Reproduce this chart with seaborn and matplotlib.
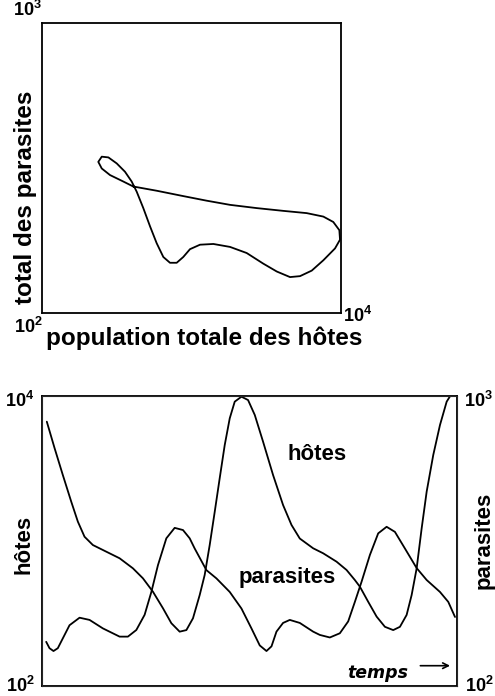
import numpy as np
import pandas as pd
import seaborn as sns
import matplotlib.pyplot as plt

sns.set_style('white')
plt.rcParams['font.family'] = ['Liberation Sans', 'DejaVu Sans']
plt.rcParams['font.weight'] = 'bold'
plt.rcParams['text.color'] = 'black'
plt.rcParams['mathtext.fontset'] = 'custom'
plt.rcParams['mathtext.rm'] = 'Liberation Sans:bold'
plt.rcParams['mathtext.bf'] = 'Liberation Sans:bold'

# phase plane: host population vs parasite total (closed loop)
loop_hosts = [408, 350, 285, 251, 238, 251, 278, 316, 359, 398, 430, 476, 528, 585,
              648, 718, 796, 881, 977, 1140, 1400, 1810, 2340, 3020, 3720, 4560,
              5320, 6370, 7620, 9120, 9850, 9750, 8880, 7620, 5900, 4110, 2730,
              1810, 1260, 881, 585, 408]
loop_parasites = [273, 284, 299, 315, 332, 346, 344, 328, 307, 284, 262, 230, 199, 174,
                  156, 149, 149, 156, 166, 172, 173, 169, 161, 148, 139, 133,
                  134, 140, 152, 167, 179, 193, 206, 215, 221, 225, 230,
                  236, 244, 253, 264, 273]

# time series
t_hosts = [1.16, 3.02, 5.02, 7.04, 8.64, 10.25, 12.26, 15.49, 18.70, 21.91, 24.32,
           26.73, 29.14, 31.17, 33.17, 34.79, 36.38, 38.00, 39.20, 40.41, 41.62,
           42.82, 44.03, 45.24, 46.44, 48.06, 49.65, 51.27, 53.27, 55.68, 58.09,
           60.12, 62.12, 65.33, 67.74, 70.98, 73.39, 75.39, 76.60, 78.60, 80.63,
           82.63, 84.63, 86.25, 87.86, 89.07, 90.28, 91.48, 92.69, 94.28, 95.90,
           97.51, 98.31]
hosts = [6650, 4380, 2850, 1870, 1360, 1070, 938, 844, 760, 648, 553,
         447, 344, 271, 237, 243, 293, 424, 583, 938, 1590,
         2710, 4590, 7020, 9140, 9890, 9380, 7400, 4840, 2850, 1770,
         1290, 1040, 891, 823, 720, 631, 538, 484, 381, 301,
         256, 243, 256, 309, 424, 648, 1220, 2190, 3920, 6310,
         9140, 9950]

t_parasites = [1.01, 1.81, 2.77, 3.81, 5.02, 6.63, 9.05, 11.46, 14.67, 18.70, 20.70,
               22.73, 24.73, 26.35, 27.94, 29.96, 31.97, 33.97, 35.59, 36.79, 39.61,
               42.03, 45.24, 48.06, 50.47, 52.47, 54.09, 55.30, 56.50, 58.09, 59.71,
               62.12, 65.33, 66.95, 69.36, 71.77, 73.78, 75.39, 77.01, 79.01, 81.01,
               83.04, 85.04, 87.45, 90.28, 92.69, 95.90, 97.90, 99.52]
parasites = [142, 135, 132, 135, 146, 162, 172, 169, 158, 148, 148,
             156, 176, 211, 261, 323, 351, 345, 323, 298, 251,
             235, 211, 185, 158, 138, 132, 137, 154, 165, 169,
             165, 154, 150, 147, 152, 167, 195, 229, 283, 336,
             354, 340, 298, 255, 232, 211, 195, 173]

W, H = 495, 696
fig = plt.figure(figsize=(W / 100, H / 100), dpi=100)


def fx(px):
    return px / W


def fy(py):
    return 1 - py / H


def label(x, y, s, size=16, **kw):
    fig.text(fx(x), fy(y), s, fontsize=size, fontweight='bold', color='black',
             ha='center', va='center', **kw)


lw = 1.3

# top panel
ax1 = fig.add_axes([fx(42), fy(313), fx(341) - fx(42), fy(23) - fy(313)])
df_loop = pd.DataFrame({'hosts': loop_hosts, 'parasites': loop_parasites})
sns.lineplot(data=df_loop, x='hosts', y='parasites', sort=False, estimator=None,
             color='black', linewidth=lw, ax=ax1)
ax1.set_xscale('log')
ax1.set_yscale('log')
ax1.set_xlim(100, 10000)
ax1.set_ylim(100, 1000)
ax1.set_xticks([])
ax1.set_yticks([])
ax1.minorticks_off()
ax1.set_xlabel('')
ax1.set_ylabel('')

label(27, 10, r'$10^3$', 13)
label(28, 327, r'$10^2$', 13)
label(358, 316, r'$10^4$', 13)
label(204, 338, 'population totale des hôtes', 17.5)
label(26, 197, 'total des parasites', 17.5, rotation=90)

# bottom panel
ax2 = fig.add_axes([fx(42), fy(686), fx(457) - fx(42), fy(396) - fy(686)])
df_h = pd.DataFrame({'t': t_hosts, 'v': hosts})
df_p = pd.DataFrame({'t': t_parasites, 'v': parasites})
sns.lineplot(data=df_h, x='t', y='v', color='black', linewidth=lw, ax=ax2)
ax2.set_yscale('log')
ax2.set_ylim(100, 10000)
ax2.set_xlim(0, 100)
ax3 = ax2.twinx()
sns.lineplot(data=df_p, x='t', y='v', color='black', linewidth=lw, ax=ax3)
ax3.set_yscale('log')
ax3.set_ylim(100, 1000)
for a in (ax2, ax3):
    a.set_xticks([])
    a.set_yticks([])
    a.minorticks_off()
    a.set_xlabel('')
    a.set_ylabel('')

label(20, 401, r'$10^4$', 13)
label(20, 686, r'$10^2$', 13)
label(478, 401, r'$10^3$', 13)
label(479, 686, r'$10^2$', 13)
label(24, 544, 'hôtes', rotation=90)
label(484, 540, 'parasites', rotation=90)
label(317, 455, 'hôtes')
label(287, 577, 'parasites')
fig.text(fx(378), fy(673), 'temps', fontsize=12.5, fontstyle='italic',
         fontweight='bold', family='DejaVu Sans', color='black',
         ha='center', va='center')
ax2.annotate('', xy=(0.99, 0.07), xytext=(0.905, 0.07), xycoords='axes fraction',
             arrowprops=dict(arrowstyle='->', color='black', lw=1.2))

for a in (ax1, ax2):
    for sp in a.spines.values():
        sp.set_color('black')
        sp.set_linewidth(1.3)

fig.savefig('out.png', dpi=100)
